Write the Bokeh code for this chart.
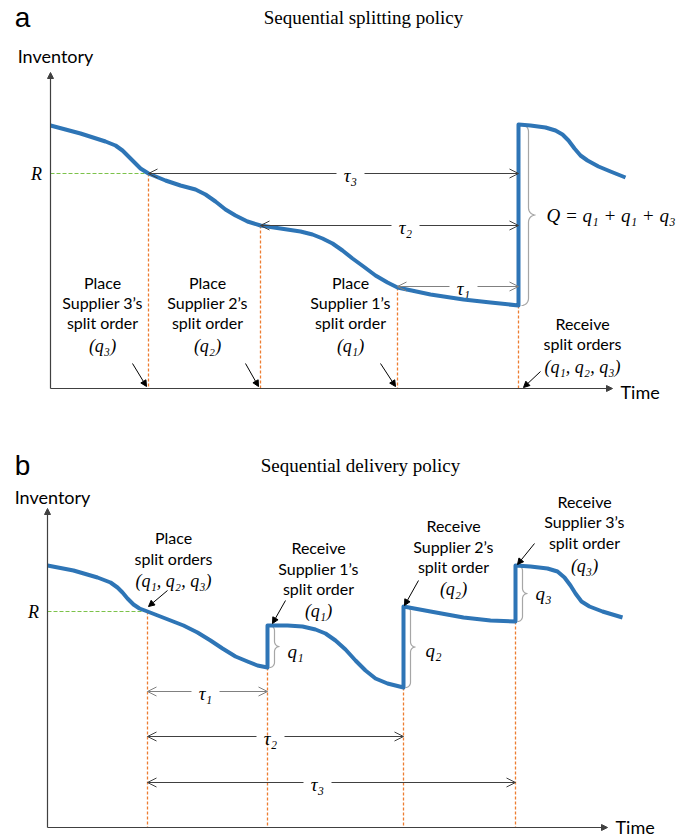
import numpy as np
from bokeh.plotting import figure
from bokeh.models import Range1d, Arrow, OpenHead, NormalHead
from bokeh.layouts import column
from bokeh.core.properties import value
from bokeh.embed import file_html
from bokeh.resources import INLINE

BLUE = "#2E75B6"
ORANGE = "#ED7D31"
GREEN = "#7CC24A"
BRACE = "#A6A6A6"
DARK = "#404040"
SANS = "Lato"
SERIF = "Liberation Serif"

# ---------------- Panel a: sequential splitting policy ----------------
a_time = [0, 30, 55, 65, 72, 78, 84, 90, 98, 115, 130, 145, 155, 165, 175, 185, 197, 210,
          230, 250, 262, 272, 282, 292, 302, 313, 325, 337, 347, 380, 413, 440, 468,
          468, 480, 495, 505, 512, 518, 524, 530, 537, 548, 560, 575]
a_inv = [263, 255, 247, 243, 238, 232, 226, 220, 215, 208, 203, 199, 194, 187, 179, 173, 167, 163,
         160, 157, 154, 150, 145, 138, 130, 122, 113, 106, 101, 94, 89, 86, 83,
         264, 263, 261, 258, 254, 248, 240, 233, 228, 222, 217, 211]
a_R = 215
a_event_t = [98, 210, 347, 468]
a_event_inv = [215, 163, 101, 83]
a_tau_start = [347, 210, 98]
a_tau_end = [468, 468, 468]
a_tau_inv = [102, 163, 215]
a_tau_label_t = [413, 355, 300]
a_tau_labels = ["τ₁", "τ₂", "τ₃"]
a_Q_low, a_Q_high = 83, 264
a_Q_label = "Q = q₁ + q₁ + q₃"
a_blocks = [
    (["Place", "Supplier 3’s", "split order"], "(q₃)", 52, [106, 86, 66, 43]),
    (["Place", "Supplier 2’s", "split order"], "(q₂)", 157, [106, 86, 66, 43]),
    (["Place", "Supplier 1’s", "split order"], "(q₁)", 300, [106, 86, 66, 43]),
    (["Receive", "split orders"], "(q₁, q₂, q₃)", 532, [65, 45, 22]),
]
a_pointers = [(82, 25, 96, 2), (195, 25, 208, 2), (330, 25, 345, 2), (490, 17, 473, 1)]

# ---------------- Panel b: sequential delivery policy ----------------
b_time = [0, 26, 50, 63, 70, 75, 80, 86, 92, 100, 118, 136, 150, 163, 175, 188, 200, 210, 220,
          220, 240, 255, 268, 278, 288, 298, 308, 318, 328, 340, 356,
          356, 383, 416, 443, 468,
          468, 483, 500, 510, 517, 523, 528, 534, 542, 555, 575]
b_inv = [262, 257, 250, 245, 240, 235, 229, 223, 219, 216, 209, 202, 195, 187, 179, 171, 166, 162, 160,
         202, 202, 201, 198, 194, 187, 178, 167, 157, 149, 144, 140,
         221, 216, 210, 207, 206,
         262, 261, 259, 256, 250, 242, 234, 226, 221, 216, 210]
b_R = 216
b_event_t = [100, 220, 356, 468]
b_event_inv = [216, 160, 140, 206]
b_tau_start = [100, 100, 100]
b_tau_end = [220, 356, 468]
b_tau_inv = [136, 91, 45]
b_tau_label_t = [158, 223, 270]
b_tau_labels = ["τ₁", "τ₂", "τ₃"]
b_braces = [(222, 160, 202, "q₁", 248, 176), (358, 140, 221, "q₂", 386, 177),
            (470, 206, 262, "q₃", 496, 234)]
b_blocks = [
    (["Place", "split orders"], "(q₁, q₂, q₃)", 126, [290, 269, 247]),
    (["Receive", "Supplier 1’s", "split order"], "(q₁)", 271, [280, 259, 239, 217]),
    (["Receive", "Supplier 2’s", "split order"], "(q₂)", 406, [302, 281, 261, 239]),
    (["Receive", "Supplier 3’s", "split order"], "(q₃)", 537, [326, 306, 285, 262]),
]
b_pointers = [(120, 237, 101, 221), (238, 227, 225, 204), (371, 247, 357, 222), (487, 284, 470, 263)]


def make_fig(height, x0, x1, y0, y1):
    p = figure(width=683, height=height, x_range=Range1d(x0, x1), y_range=Range1d(y0, y1),
               output_backend="svg", toolbar_location=None, min_border=0)
    p.axis.visible = False
    p.grid.visible = False
    p.outline_line_color = None
    p.background_fill_color = "white"
    p.border_fill_color = "white"
    return p


def brace_path(x0, lo, hi, w):
    r = w / 2.0
    mid = (lo + hi) / 2.0
    xs, ys = [], []
    th = np.linspace(np.pi / 2, 0, 8)
    xs += list(x0 + r * np.cos(th)); ys += list(hi - r + r * np.sin(th))
    th = np.linspace(np.pi, 1.5 * np.pi, 8)
    xs += list(x0 + 2 * r + r * np.cos(th)); ys += list(mid + r + r * np.sin(th))
    th = np.linspace(0.5 * np.pi, np.pi, 8)
    xs += list(x0 + 2 * r + r * np.cos(th)); ys += list(mid - r + r * np.sin(th))
    th = np.linspace(0, -0.5 * np.pi, 8)
    xs += list(x0 + r * np.cos(th)); ys += list(lo + r + r * np.sin(th))
    return xs, ys


def axes(p, ytop, xend, label_v):
    p.add_layout(Arrow(end=NormalHead(size=6, fill_color=DARK, line_color=DARK),
                       x_start=0, y_start=0, x_end=0, y_end=ytop, line_color=DARK, line_width=1.2))
    p.add_layout(Arrow(end=NormalHead(size=6, fill_color=DARK, line_color=DARK),
                       x_start=0, y_start=0, x_end=xend, y_end=0, line_color=DARK, line_width=1.2))
    p.text(x=[xend + 8], y=[label_v], text=["Time"], text_font=value(SANS), text_font_size="18px",
           text_align="left", text_baseline="middle", text_color="black")


def header(p, letter, lv, title, tv, inv_v):
    p.text(x=[p.x_range.start + 22], y=[lv], text=[letter], text_font=value("Liberation Sans"),
           text_font_size="28px", text_align="center", text_baseline="middle", text_color="black")
    p.text(x=[313], y=[tv], text=[title], text_font=value(SERIF), text_font_size="19px",
           text_align="center", text_baseline="middle", text_color="black")
    p.text(x=[5], y=[inv_v], text=["Inventory"], text_font=value(SANS), text_font_size="18px",
           text_align="center", text_baseline="middle", text_color="black")


def events(p, ts, levels, R):
    for t, lv in zip(ts, levels):
        p.line([t, t], [lv, 0], line_color=ORANGE, line_width=1.3, line_dash="3 2")
    p.line([0, ts[0]], [R, R], line_color=GREEN, line_width=1.2, line_dash="4 2")
    p.text(x=[-14], y=[R], text=["R"], text_font=value(SERIF), text_font_style="italic",
           text_font_size="18px", text_align="center", text_baseline="middle", text_color="black")


def taus(p, starts, ends, levels, label_t, labels, colors):
    gap = 14
    for t0, t1, v, tl, lab, c in zip(starts, ends, levels, label_t, labels, colors):
        for xs, xe in ((tl - gap, t0), (tl + gap, t1)):
            p.add_layout(Arrow(end=OpenHead(size=9, line_color=c, line_width=1),
                               x_start=xs, y_start=v, x_end=xe, y_end=v, line_color=c, line_width=1))
        p.text(x=[tl], y=[v - 2], text=[lab], text_font=value(SERIF), text_font_style="italic",
               text_font_size="19px", text_align="center", text_baseline="middle", text_color="black")


def blocks(p, blist):
    for lines, math, t, vs in blist:
        p.text(x=[t] * len(lines), y=vs[:len(lines)], text=lines, text_font=value(SANS),
               text_font_size="16px", text_align="center", text_baseline="middle", text_color="black")
        p.text(x=[t], y=[vs[-1]], text=[math], text_font=value(SERIF), text_font_style="italic",
               text_font_size="18px", text_align="center", text_baseline="middle", text_color="black")


def pointers(p, plist):
    for x0, y0, x1, y1 in plist:
        p.add_layout(Arrow(end=NormalHead(size=6, fill_color="black", line_color="black"),
                           x_start=x0, y_start=y0, x_end=x1, y_end=y1, line_color="black", line_width=1))


# ---- build panel a ----
pa = make_fig(430, -50, 633, -42, 388)
axes(pa, 316, 562, -3)
header(pa, "a", 371, "Sequential splitting policy", 371, 333)
events(pa, a_event_t, a_event_inv, a_R)
taus(pa, a_tau_start, a_tau_end, a_tau_inv, a_tau_label_t, a_tau_labels, ["#808080", DARK, DARK])
bx, by = brace_path(a_event_t[-1] + 3, a_Q_low, a_Q_high, 14)
pa.line(bx, by, line_color=BRACE, line_width=1.2)
pa.text(x=[496], y=[173], text=[a_Q_label], text_font=value(SERIF), text_font_style="italic",
        text_font_size="19px", text_align="left", text_baseline="middle", text_color="black")
pa.line(a_time, a_inv, line_color=BLUE, line_width=4, line_join="round")
blocks(pa, a_blocks)
pointers(pa, a_pointers)

# ---- build panel b ----
pb = make_fig(409, -47, 636, -12, 397)
axes(pb, 319, 560, 1)
header(pb, "b", 362, "Sequential delivery policy", 362, 331)
events(pb, b_event_t, b_event_inv, b_R)
taus(pb, b_tau_start, b_tau_end, b_tau_inv, b_tau_label_t, b_tau_labels, ["#808080", DARK, DARK])
for x0, lo, hi, lab, lt, lv in b_braces:
    bx, by = brace_path(x0, lo, hi, 10)
    pb.line(bx, by, line_color=BRACE, line_width=1.2)
    pb.text(x=[lt], y=[lv], text=[lab], text_font=value(SERIF), text_font_style="italic",
            text_font_size="19px", text_align="center", text_baseline="middle", text_color="black")
pb.line(b_time, b_inv, line_color=BLUE, line_width=4, line_join="round")
blocks(pb, b_blocks)
pointers(pb, b_pointers)

layout = column(pa, pb, spacing=0)
open("out.html", "w").write(file_html(layout, INLINE))
